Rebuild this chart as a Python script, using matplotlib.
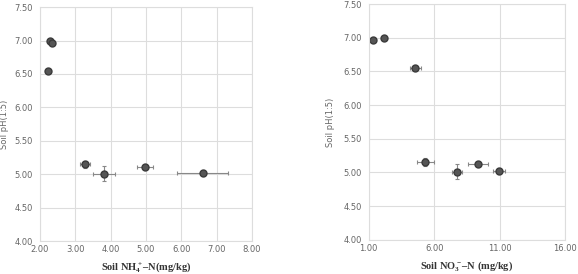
import numpy as np
import matplotlib.pyplot as plt

# left panel: NH4+-N vs pH
nh4 = [2.28, 2.35, 2.23, 3.27, 3.81, 4.98, 6.61]
nh4_err = [0.03, 0.03, 0.02, 0.14, 0.32, 0.23, 0.72]
ph_a = [6.99, 6.97, 6.55, 5.15, 5.01, 5.11, 5.02]
ph_a_err = [0.02, 0.02, 0.02, 0.05, 0.11, 0.03, 0.05]

# right panel: NO3--N vs pH
no3 = [1.30, 2.19, 4.56, 5.32, 7.72, 9.35, 10.95]
no3_err = [0.05, 0.10, 0.42, 0.67, 0.37, 0.77, 0.47]
ph_b = [6.97, 7.00, 6.55, 5.15, 5.01, 5.12, 5.02]
ph_b_err = [0.02, 0.02, 0.02, 0.06, 0.11, 0.03, 0.05]

yticks = [4.0, 4.5, 5.0, 5.5, 6.0, 6.5, 7.0, 7.5]

plt.rcParams['mathtext.fontset'] = 'custom'
plt.rcParams['mathtext.rm'] = 'Liberation Serif:bold'
plt.rcParams['mathtext.it'] = 'Liberation Serif:bold'
plt.rcParams['mathtext.bf'] = 'Liberation Serif:bold'

fig = plt.figure(figsize=(5.78, 2.74), dpi=100)
ax1 = fig.add_axes([0.069, 0.120, 0.367, 0.854])
ax2 = fig.add_axes([0.638, 0.125, 0.340, 0.860])

label_font = dict(family='Liberation Serif', fontweight='bold', fontsize=7.5, color='#333333')

def style(ax, xlim, xticks):
    ax.set_xlim(xlim)
    ax.set_ylim(4.0, 7.5)
    ax.set_xticks(xticks)
    ax.set_yticks(yticks)
    ax.set_xticklabels(['%.2f' % t for t in xticks])
    ax.set_yticklabels(['%.2f' % t for t in yticks])
    ax.grid(True, color='#dddddd', linewidth=0.8)
    ax.set_axisbelow(True)
    for s in ax.spines.values():
        s.set_color('#dddddd')
        s.set_linewidth(0.8)
    ax.tick_params(length=0, labelsize=6, labelcolor='#666666', pad=5)
    ax.tick_params(axis='x', pad=3)

style(ax1, (2, 8), [2, 3, 4, 5, 6, 7, 8])
style(ax2, (1, 16), [1, 6, 11, 16])

ax1.errorbar(nh4, ph_a, xerr=nh4_err, yerr=ph_a_err, fmt='o', ms=5,
             mfc='#555555', mec='#3a3a3a', ecolor='#888888', elinewidth=0.8,
             capsize=1.5, capthick=0.8)
ax2.errorbar(no3, ph_b, xerr=no3_err, yerr=ph_b_err, fmt='o', ms=5,
             mfc='#555555', mec='#3a3a3a', ecolor='#888888', elinewidth=0.8,
             capsize=1.5, capthick=0.8)

fig.text(0.253, 0.015, 'Soil NH$_4^+$–N(mg/kg)', ha='center', va='baseline', **label_font)
fig.text(0.808, 0.02, 'Soil NO$_3^-$–N (mg/kg)', ha='center', va='baseline', **label_font)
ax1.set_ylabel('Soil pH(1:5)', fontsize=6, color='#666666', labelpad=4)
ax2.set_ylabel('Soil pH(1:5)', fontsize=6, color='#666666', labelpad=6)

plt.savefig('out.png', dpi=100)
